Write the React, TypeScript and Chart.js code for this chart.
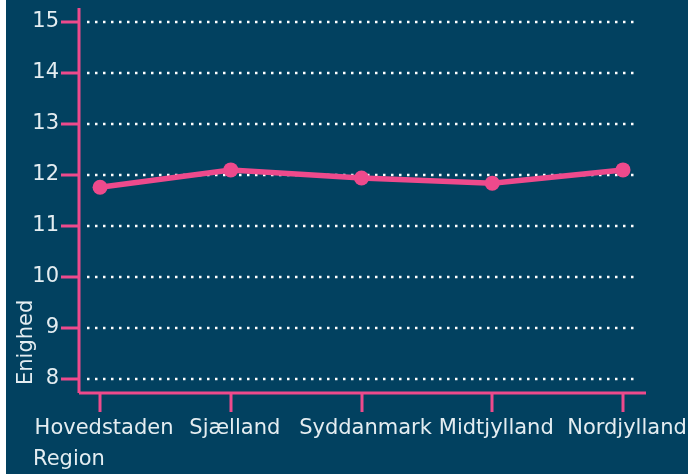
import React, { useEffect, useRef } from "react";
import { Chart, registerables } from "chart.js";

Chart.register(...registerables);

const categories = ["Hovedstaden", "Sjælland", "Syddanmark", "Midtjylland", "Nordjylland"];
const values = [11.76, 12.1, 11.94, 11.84, 12.1];
const yTicks = [8, 9, 10, 11, 12, 13, 14, 15];
const xTitle = "Region";
const yTitle = "Enighed";

const BG = "#024160";
const PINK = "#ee4a8c";
const TEXT = "#e4edf1";
const FONT = "DejaVu Sans";

const customAxes = {
  id: "customAxes",
  beforeDatasetsDraw(chart: any) {
    const { ctx, chartArea } = chart;
    const xs = chart.scales.x;
    const ys = chart.scales.y;
    const left = chartArea.left;
    const right = chartArea.right;
    const bottom = chartArea.bottom;
    const top = chartArea.top;
    ctx.save();
    // dotted grid
    ctx.strokeStyle = "#ffffff";
    ctx.lineWidth = 2.5;
    ctx.setLineDash([2.5, 5.5]);
    yTicks.forEach((t) => {
      const y = Math.round(ys.getPixelForValue(t));
      ctx.beginPath();
      ctx.moveTo(left + 8, y);
      ctx.lineTo(right - 8, y);
      ctx.stroke();
    });
    ctx.setLineDash([]);
    ctx.strokeStyle = PINK;
    ctx.lineWidth = 3;
    // y axis
    ctx.beginPath();
    ctx.moveTo(left, top);
    ctx.lineTo(left, bottom);
    ctx.stroke();
    // x axis
    ctx.beginPath();
    ctx.moveTo(left, bottom);
    ctx.lineTo(right, bottom);
    ctx.stroke();
    // y ticks
    yTicks.forEach((t) => {
      const y = Math.round(ys.getPixelForValue(t));
      ctx.beginPath();
      ctx.moveTo(left - 18, y);
      ctx.lineTo(left, y);
      ctx.stroke();
    });
    // x ticks
    categories.forEach((_, i) => {
      const x = Math.round(xs.getPixelForValue(i));
      ctx.beginPath();
      ctx.moveTo(x, bottom);
      ctx.lineTo(x, bottom + 19);
      ctx.stroke();
    });
    // labels
    ctx.fillStyle = TEXT;
    ctx.font = `21px "${FONT}"`;
    ctx.textAlign = "right";
    ctx.textBaseline = "middle";
    yTicks.forEach((t) => {
      const y = ys.getPixelForValue(t);
      ctx.fillText(String(t), left - 20, y);
    });
    ctx.textAlign = "center";
    categories.forEach((c, i) => {
      const x = xs.getPixelForValue(i);
      ctx.fillText(c, x + 4, bottom + 36);
    });
    ctx.textAlign = "left";
    ctx.fillText(xTitle, 27, bottom + 67);
    ctx.save();
    ctx.translate(21, bottom - 8);
    ctx.rotate(-Math.PI / 2);
    ctx.textAlign = "left";
    ctx.fillText(yTitle, 0, 0);
    ctx.restore();
    ctx.restore();
  },
};

export default function App() {
  const ref = useRef<HTMLCanvasElement>(null);
  useEffect(() => {
    if (!ref.current) return;
    const chart = new Chart(ref.current, {
      type: "line",
      data: {
        datasets: [
          {
            data: values.map((v, i) => ({ x: i, y: v })),
            borderColor: PINK,
            backgroundColor: PINK,
            borderWidth: 5.5,
            pointRadius: 7.5,
            pointBorderWidth: 0,
            pointBackgroundColor: PINK,
            tension: 0,
          },
        ],
      },
      options: {
        animation: false,
        responsive: false,
        layout: { padding: { left: 73, right: 42, top: 8, bottom: 81 } },
        plugins: { legend: { display: false }, tooltip: { enabled: false } },
        scales: {
          x: { type: "linear", min: -0.161, max: 4.176, display: false },
          y: { type: "linear", min: 7.725, max: 15.275, display: false },
        },
      },
      plugins: [customAxes],
    });
    return () => chart.destroy();
  }, []);
  return (
    <div style={{ position: "fixed", left: 6, top: 0, width: 682, height: 474, background: BG }}>
      <canvas ref={ref} width={682} height={474} style={{ display: "block" }} />
    </div>
  );
}
